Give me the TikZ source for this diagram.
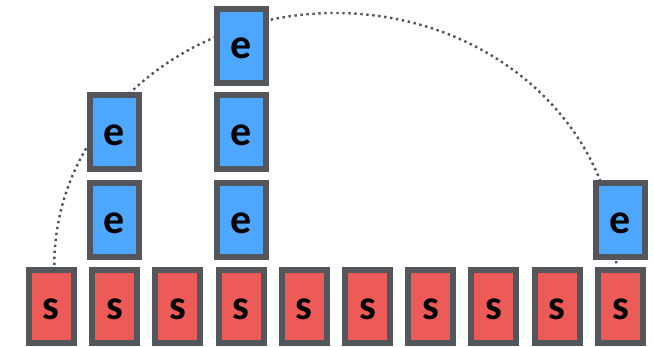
\documentclass[tikz,border=0pt]{standalone}
\usepackage{fontspec}
\setmainfont{Carlito}
\definecolor{boxline}{HTML}{53575C}
\definecolor{sfill}{HTML}{EC5B57}
\definecolor{efill}{HTML}{4DA6FF}
\definecolor{dotline}{HTML}{4F545A}
\tikzset{
  tile/.style={draw=boxline, line width=6pt, inner sep=0pt,
    text height=26pt, text depth=0pt,
    font=\fontsize{42}{42}\selectfont\bfseries},
  sbox/.style={tile, fill=sfill, minimum width=45pt, minimum height=73pt},
  ebox/.style={tile, fill=efill, minimum width=49pt, minimum height=74pt},
  dotarc/.style={draw=dotline, line width=2.4pt, dash pattern=on 2.4pt off 3.6pt}
}
\begin{document}
\begin{tikzpicture}[x=1pt, y=1pt]
\useasboundingbox (0,0) rectangle (654,346);
% bottom row of s tiles
\foreach \i in {1,...,10}
  \coordinate (c\i) at ({51.3+63.24*(\i-1)}, 39.5);
% dotted arc drawn first so that the tiles cover it
\draw[dotarc] ([xshift=3pt]c1 |- 0,81) arc[start angle=180, end angle=0, x radius=281, y radius=252];
\foreach \i in {1,...,10}
  \node[sbox] (s\i) at (c\i) {s};
% stacks of e tiles
\node[ebox] (e2a) at (c2 |- 0,126) {e};
\node[ebox] (e2b) at (c2 |- 0,213.5) {e};
\node[ebox] (e4a) at (c4 |- 0,126) {e};
\node[ebox] (e4b) at (c4 |- 0,213.5) {e};
\node[ebox] (e4c) at (c4 |- 0,300) {e};
\node[ebox] (e10a) at (c10 |- 0,126) {e};
\end{tikzpicture}
\end{document}
